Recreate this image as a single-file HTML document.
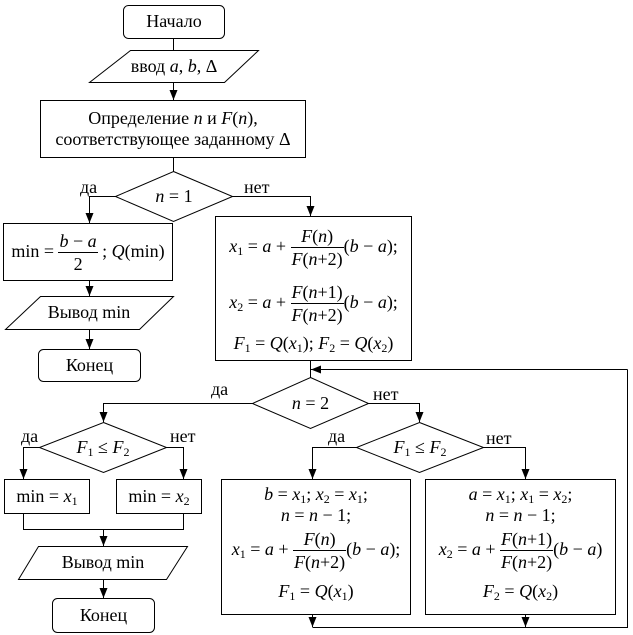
<!DOCTYPE html>
<html><head><meta charset="utf-8"><style>
body{margin:0;background:#fff;width:633px;height:635px;overflow:hidden;position:relative;font-family:"Liberation Serif",serif;font-size:18px;color:#000}
svg{position:absolute;left:0;top:0}
.t{position:absolute;white-space:nowrap;text-align:center;line-height:21px}
i{font-style:italic}
.fr{display:inline-block;vertical-align:middle;text-align:center;line-height:22px}
.fr>span{display:block;padding:0 1px}
.fr>span:first-child{border-bottom:1px solid #000}
sub{font-size:12px;vertical-align:-3px;line-height:0}
</style></head><body>
<svg width="633" height="635" viewBox="0 0 633 635">
<defs><marker id="a" markerWidth="10" markerHeight="8" refX="10" refY="4" orient="auto" markerUnits="userSpaceOnUse"><path d="M0,0 L10,4 L0,8 z" fill="#000"/></marker></defs>
<g fill="none" stroke="#000" stroke-width="1">
<rect x="123.5" y="5.5" width="101" height="33" rx="5"/>
<path d="M130.5,50.5 H258.5 L224.5,82.5 H89.5 Z"/>
<rect x="40.5" y="100.5" width="265" height="57"/>
<path d="M173.5,171.5 L232.5,196.5 L173.5,221.5 L115.5,196.5 Z"/>
<rect x="3.5" y="223.5" width="169" height="57"/>
<rect x="215.5" y="216.5" width="196" height="144"/>
<path d="M40.5,296.5 H173.5 L139.5,329.5 H5.5 Z"/>
<rect x="38.5" y="349.5" width="102" height="32" rx="5"/>
<path d="M310.5,377.5 L368.5,403.5 L310.5,428.5 L252.5,403.5 Z"/>
<path d="M103.5,422.5 L166.5,447.5 L103.5,472.5 L39.5,447.5 Z"/>
<path d="M419.5,422.5 L483.5,447.5 L419.5,472.5 L356.5,447.5 Z"/>
<rect x="4.5" y="479.5" width="85" height="34"/>
<rect x="116.5" y="479.5" width="85" height="34"/>
<path d="M38.5,546.5 H187.5 L166.5,579.5 H18.5 Z"/>
<rect x="52.5" y="598.5" width="102" height="34" rx="5"/>
<rect x="221.5" y="479.5" width="189" height="135"/>
<rect x="425.5" y="479.5" width="190" height="135"/>
<path d="M173.5,38.5 V50.5"/>
<path d="M173.5,82.5 V100" marker-end="url(#a)"/>
<path d="M173.5,157.5 V171.5"/>
<path d="M115.5,196.5 H89.5 V223" marker-end="url(#a)"/>
<path d="M232.5,196.5 H310.5 V216" marker-end="url(#a)"/>
<path d="M89.5,280.5 V296" marker-end="url(#a)"/>
<path d="M89.5,329.5 V349" marker-end="url(#a)"/>
<path d="M310.5,360.5 V377.5"/>
<path d="M627.5,369.5 H311" marker-end="url(#a)"/>
<path d="M627.5,369.5 V627.5 H312.5"/>
<path d="M252.5,403.5 H103.5 V422" marker-end="url(#a)"/>
<path d="M368.5,403.5 H419.5 V422" marker-end="url(#a)"/>
<path d="M39.5,447.5 H23.5 V479" marker-end="url(#a)"/>
<path d="M166.5,447.5 H183.5 V479" marker-end="url(#a)"/>
<path d="M356.5,447.5 H312.5 V479" marker-end="url(#a)"/>
<path d="M483.5,447.5 H525.5 V479" marker-end="url(#a)"/>
<path d="M23.5,513.5 V529.5 H183.5 V513.5"/>
<path d="M103.5,529.5 V546" marker-end="url(#a)"/>
<path d="M103.5,579.5 V598" marker-end="url(#a)"/>
<path d="M312.5,614.5 V627" marker-end="url(#a)"/>
<path d="M525.5,614.5 V627" marker-end="url(#a)"/>
</g></svg>
<div class="t" style="left:123px;top:11px;width:102px">Начало</div>
<div class="t" style="left:100px;top:56px;width:148px">ввод <i>a</i>, <i>b</i>, Δ</div>
<div class="t" style="left:40px;top:108px;width:266px">Определение <i>n</i> и <i>F</i>(<i>n</i>),<br>соответствующее заданному Δ</div>
<div class="t" style="left:115px;top:186px;width:118px"><i>n</i> = 1</div>
<div class="t" style="left:80px;top:177px">да</div>
<div class="t" style="left:244px;top:177px">нет</div>
<div class="t" style="left:3px;top:226px;width:170px;line-height:50px">min = <span class="fr"><span><i>b</i> − <i>a</i></span><span>2</span></span> ; <i>Q</i>(min)</div>
<div class="t" style="left:15px;top:302px;width:148px">Вывод min</div>
<div class="t" style="left:38px;top:355px;width:103px">Конец</div>
<div class="t" style="left:215px;top:218px;width:197px;line-height:56px"><i>x</i><sub>1</sub> = <i>a</i> + <span class="fr"><span><i>F</i>(<i>n</i>)</span><span><i>F</i>(<i>n</i>+2)</span></span>(<i>b</i> − <i>a</i>);<br><i>x</i><sub>2</sub> = <i>a</i> + <span class="fr"><span><i>F</i>(<i>n</i>+1)</span><span><i>F</i>(<i>n</i>+2)</span></span>(<i>b</i> − <i>a</i>);</div>
<div class="t" style="left:215px;top:333px;width:197px"><i>F</i><sub>1</sub> = <i>Q</i>(<i>x</i><sub>1</sub>); <i>F</i><sub>2</sub> = <i>Q</i>(<i>x</i><sub>2</sub>)</div>
<div class="t" style="left:252px;top:393px;width:117px"><i>n</i> = 2</div>
<div class="t" style="left:211px;top:379px">да</div>
<div class="t" style="left:373px;top:384px">нет</div>
<div class="t" style="left:39px;top:437px;width:128px"><i>F</i><sub>1</sub> ≤ <i>F</i><sub>2</sub></div>
<div class="t" style="left:356px;top:437px;width:128px"><i>F</i><sub>1</sub> ≤ <i>F</i><sub>2</sub></div>
<div class="t" style="left:21px;top:426px">да</div>
<div class="t" style="left:170px;top:426px">нет</div>
<div class="t" style="left:328px;top:426px">да</div>
<div class="t" style="left:486px;top:428px">нет</div>
<div class="t" style="left:4px;top:486px;width:86px">min = <i>x</i><sub>1</sub></div>
<div class="t" style="left:116px;top:486px;width:86px">min = <i>x</i><sub>2</sub></div>
<div class="t" style="left:28px;top:552px;width:150px">Вывод min</div>
<div class="t" style="left:52px;top:605px;width:103px">Конец</div>
<div class="t" style="left:221px;top:484px;width:190px;line-height:21px"><i>b</i> = <i>x</i><sub>1</sub>; <i>x</i><sub>2</sub> = <i>x</i><sub>1</sub>;<br><i>n</i> = <i>n</i> − 1;</div>
<div class="t" style="left:221px;top:526px;width:190px;line-height:46px"><i>x</i><sub>1</sub> = <i>a</i> + <span class="fr"><span><i>F</i>(<i>n</i>)</span><span><i>F</i>(<i>n</i>+2)</span></span>(<i>b</i> − <i>a</i>);</div>
<div class="t" style="left:221px;top:581px;width:190px"><i>F</i><sub>1</sub> = <i>Q</i>(<i>x</i><sub>1</sub>)</div>
<div class="t" style="left:425px;top:484px;width:191px;line-height:21px"><i>a</i> = <i>x</i><sub>1</sub>; <i>x</i><sub>1</sub> = <i>x</i><sub>2</sub>;<br><i>n</i> = <i>n</i> − 1;</div>
<div class="t" style="left:425px;top:526px;width:191px;line-height:46px"><i>x</i><sub>2</sub> = <i>a</i> + <span class="fr"><span><i>F</i>(<i>n</i>+1)</span><span><i>F</i>(<i>n</i>+2)</span></span>(<i>b</i> − <i>a</i>)</div>
<div class="t" style="left:425px;top:581px;width:191px"><i>F</i><sub>2</sub> = <i>Q</i>(<i>x</i><sub>2</sub>)</div>
</body></html>
